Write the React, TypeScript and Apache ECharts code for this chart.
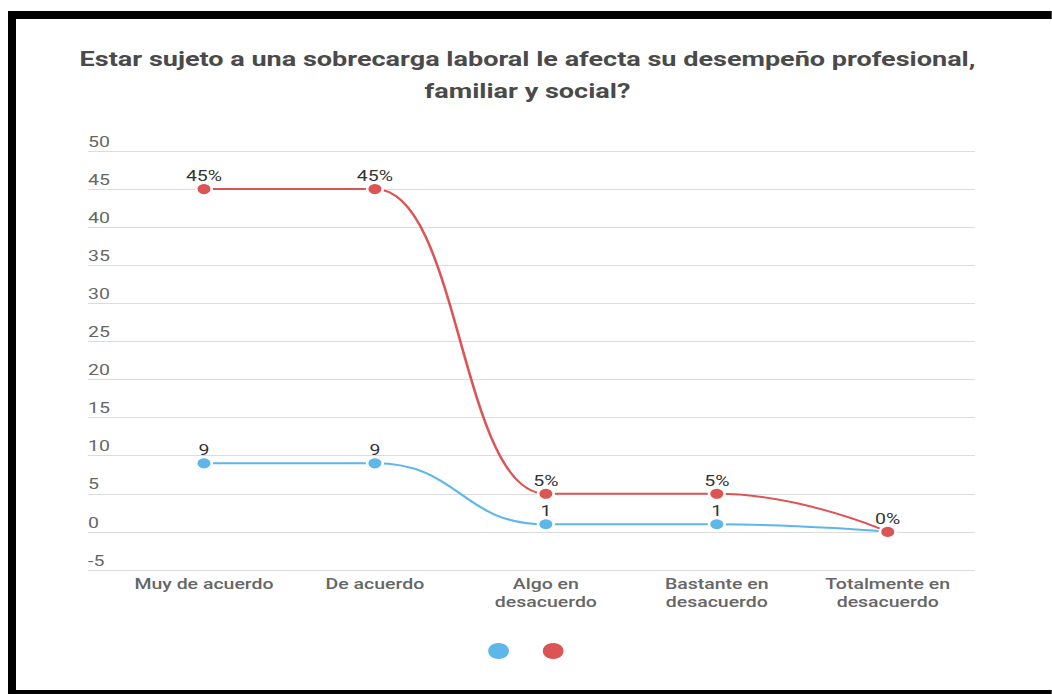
import React, { useEffect, useRef } from 'react';
import * as echarts from 'echarts';

const titleText = 'Estar sujeto a una sobrecarga laboral le afecta su desempeño profesional,\nfamiliar y social?';
const categories = ['Muy de acuerdo', 'De acuerdo', 'Algo en\ndesacuerdo', 'Bastante en\ndesacuerdo', 'Totalmente en\ndesacuerdo'];
const frecuencia = [9, 9, 1, 1, 0];
const porcentaje = [45, 45, 5, 5, 0];
const seriesNames = ['Frecuencia', 'Porcentaje'];
const yMin = -5;
const yMax = 50;
const yStep = 5;

const BLUE = '#5db7e8';
const RED = '#dd5455';
const FONT = 'Roboto, "Noto Sans", sans-serif';

// The reference image is stretched horizontally; the chart is drawn narrower and scaled.
const STRETCH = 1.3;
const W = 1052 / STRETCH;
const H = 694;

export default function App() {
  const ref = useRef<HTMLDivElement>(null);
  useEffect(() => {
    if (!ref.current) return;
    const chart = echarts.init(ref.current, null, { renderer: 'svg' });
    const labelCommon = {
      show: true,
      position: 'top',
      distance: -1,
      color: '#333',
      fontSize: 15,
      fontFamily: FONT,
    };
    const sx = (x: number) => x / STRETCH;
    chart.setOption({
      animation: false,
      backgroundColor: '#fff',
      title: {
        text: titleText,
        left: sx(521),
        top: 38,
        textAlign: 'center',
        textStyle: {
          fontSize: 20.8,
          fontWeight: 'bold',
          color: '#4a4a4a',
          fontFamily: FONT,
          lineHeight: 32,
        },
      },
      graphic: [
        { type: 'rect', shape: { x: sx(8), y: 11, width: W, height: 8 }, style: { fill: '#000' } },
        { type: 'rect', shape: { x: sx(8), y: 11, width: sx(8), height: 683 }, style: { fill: '#000' } },
        { type: 'rect', shape: { x: sx(8), y: 690, width: W, height: 4 }, style: { fill: '#000' } },
      ],
      legend: {
        bottom: 28,
        left: 'center',
        icon: 'circle',
        itemWidth: 18,
        itemHeight: 18,
        itemGap: 22,
        formatter: () => '',
        data: seriesNames,
      },
      grid: [
        { left: sx(88), right: W - sx(975), top: 151, bottom: 124, containLabel: false },
        { left: sx(204) - sx(171) / 2, right: W - (sx(888) + sx(171) / 2), top: 151, bottom: 124, containLabel: false },
      ],
      xAxis: [
        { type: 'value', gridIndex: 0, show: false, min: 0, max: 1 },
        {
          type: 'category',
          gridIndex: 1,
          data: categories,
          boundaryGap: true,
          axisLine: { show: false },
          axisTick: { show: false },
          axisLabel: {
            color: '#666',
            fontSize: 15,
            fontWeight: 500,
            fontFamily: FONT,
            lineHeight: 18,
            margin: 5,
            interval: 0,
          },
        },
      ],
      yAxis: [
        {
          type: 'value',
          gridIndex: 0,
          min: yMin,
          max: yMax,
          interval: yStep,
          axisLine: { show: false },
          axisTick: { show: false },
          splitLine: { lineStyle: { color: '#dcdcdc', width: 1 } },
          axisLabel: {
            inside: true,
            margin: 0,
            verticalAlign: 'bottom',
            padding: [0, 0, 2, 0],
            color: '#666',
            fontSize: 15,
            fontFamily: FONT,
          },
        },
        {
          type: 'value',
          gridIndex: 1,
          min: yMin,
          max: yMax,
          interval: yStep,
          show: false,
          splitLine: { show: false },
        },
      ],
      series: [
        {
          name: seriesNames[0],
          type: 'line',
          xAxisIndex: 1,
          yAxisIndex: 1,
          smooth: true,
          smoothMonotone: 'x',
          symbol: 'circle',
          symbolSize: 12,
          color: BLUE,
          lineStyle: { color: BLUE, width: 2 },
          itemStyle: { color: BLUE, borderColor: '#fff', borderWidth: 2 },
          label: { ...labelCommon },
          data: frecuencia.map((v, i) =>
            i === frecuencia.length - 1 ? { value: v, label: { show: false } } : v
          ),
          z: 2,
        },
        {
          name: seriesNames[1],
          type: 'line',
          xAxisIndex: 1,
          yAxisIndex: 1,
          smooth: true,
          smoothMonotone: 'x',
          symbol: 'circle',
          symbolSize: 12,
          color: RED,
          lineStyle: { color: RED, width: 2 },
          itemStyle: { color: RED, borderColor: '#fff', borderWidth: 2 },
          label: { ...labelCommon, formatter: '{c}%' },
          data: porcentaje,
          z: 3,
        },
      ],
    });
    return () => chart.dispose();
  }, []);
  return (
    <div style={{ position: 'absolute', left: 0, top: 0, width: 1052, height: H, overflow: 'hidden', background: '#fff' }}>
      <div
        ref={ref}
        style={{ width: W, height: H, transform: `scaleX(${STRETCH})`, transformOrigin: '0 0' }}
      />
    </div>
  );
}
